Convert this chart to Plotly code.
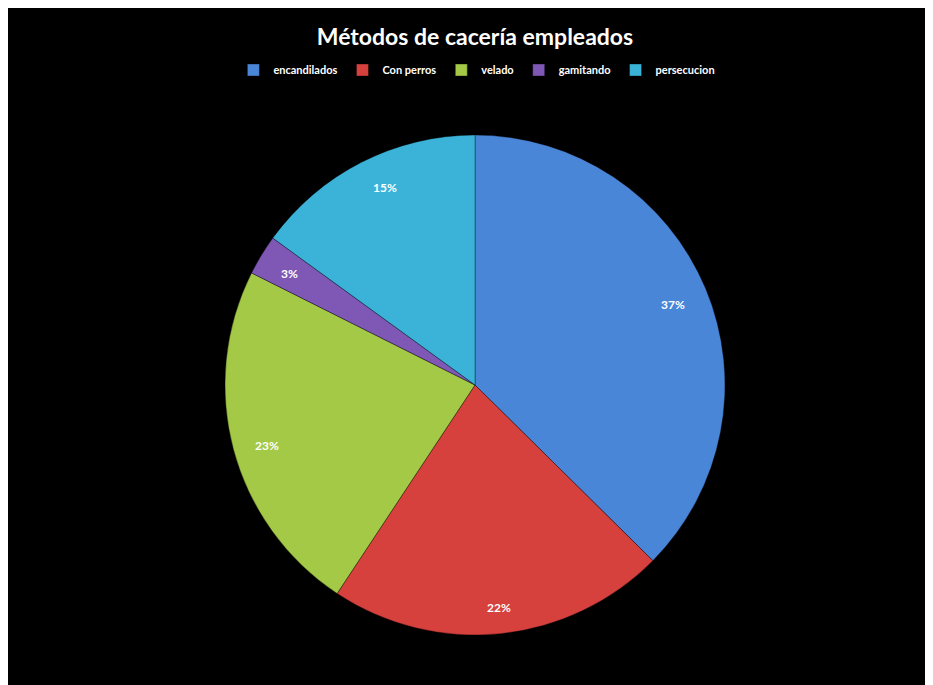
import math
import plotly.graph_objects as go

labels = ["encandilados", "Con perros", "velado", "gamitando", "persecucion"]
values = [37.4, 21.9, 23.1, 2.6, 15.0]
colors = ["#4A86D8", "#D6403D", "#A3C947", "#7F58B6", "#3BB3D9"]
title_text = "Métodos de cacería empleados"

fig = go.Figure(go.Pie(
    labels=labels,
    values=values,
    sort=False,
    direction="clockwise",
    rotation=0,
    marker=dict(colors=colors, line=dict(color="rgba(0,0,0,0.35)", width=1)),
    textinfo="none",
    hoverinfo="label+percent",
))

# percentage labels, computed from the data
total = sum(values)
cum = 0.0
annotations = []
for v in values:
    theta = 2 * math.pi * (cum + v / 2) / total
    cum += v
    annotations.append(dict(
        x=0.5 + 0.46 * math.sin(theta),
        y=0.5 + 0.46 * math.cos(theta),
        xref="paper", yref="paper",
        text=f"{round(100 * v / total)}%",
        showarrow=False,
        font=dict(family="Lato", size=12, color="white", weight="bold"),
    ))

W, H = 933, 685
fig.update_layout(
    width=W, height=H,
    paper_bgcolor="black", plot_bgcolor="black",
    margin=dict(l=217, r=W - 217 - 500, t=124, b=H - 124 - 506),
    title=dict(text=f"<b>{title_text}</b>", x=(475 - 8) / W, xanchor="center",
               y=1 - 29 / H, yanchor="middle", yref="container",
               font=dict(family="Lato", size=23, color="white")),
    showlegend=True,
    legend=dict(orientation="h", x=(478 - 8) / W, xanchor="center",
                y=1 - 62 / H, yanchor="middle", yref="container",
                font=dict(family="Lato", size=11, color="white", weight="bold"),
                bgcolor="rgba(0,0,0,0)"),
    annotations=annotations,
)

fig.write_html("out.html",
               post_script="document.body.style.overflow='hidden';")
